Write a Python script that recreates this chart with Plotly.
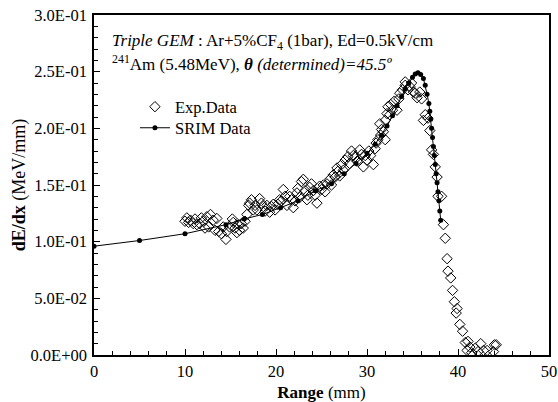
import plotly.graph_objects as go

# SRIM data (range mm, dE/dx MeV/mm)
srim_x = [0, 5, 10, 14.5, 16.5, 18.5, 20.5, 22.4, 24.3, 26.1, 27.5, 28.8, 30.0, 30.9, 31.6,
          32.2, 32.8, 33.3, 33.8, 34.2, 34.6, 35.0, 35.3, 35.6, 35.9, 36.2, 36.4, 36.6, 36.8,
          36.9, 37.0, 37.1, 37.2, 37.3, 37.4, 37.5, 37.6, 37.7, 37.8, 37.9, 38.0, 38.1]
srim_y = [0.096, 0.101, 0.107, 0.115, 0.120, 0.124, 0.130, 0.136, 0.145, 0.151, 0.160, 0.169,
          0.178, 0.186, 0.194, 0.202, 0.211, 0.220, 0.228, 0.235, 0.240, 0.245, 0.248, 0.249,
          0.2475, 0.244, 0.238, 0.230, 0.222, 0.215, 0.208, 0.200, 0.192, 0.184, 0.176, 0.168,
          0.160, 0.152, 0.144, 0.136, 0.127, 0.119]

# Experimental data
exp_x = [10.0, 10.2, 10.4, 10.6, 10.9, 11.1, 11.3, 11.6, 11.8, 12.0, 12.2, 12.4, 12.6, 12.8,
         13.1, 13.3, 13.5, 13.7, 14.0, 14.2, 14.5, 14.6, 14.9, 15.2, 15.3, 15.5, 15.7, 15.9,
         16.0, 16.2, 16.4, 16.6, 16.8, 17.0, 17.1, 17.3, 17.5, 17.7, 17.9, 18.2, 18.4, 18.6,
         18.8, 19.0, 19.3, 19.5, 19.7, 19.9, 20.2, 20.4, 20.6, 20.8, 21.0, 21.2, 21.5, 21.7,
         21.9, 22.1, 22.3, 22.4, 22.6, 22.8, 23.0, 23.2, 23.4, 23.5, 23.7, 23.9, 24.1, 24.3,
         24.5, 24.8, 25.0, 25.2, 25.4, 25.6, 25.9, 26.1, 26.3, 26.5, 26.7, 26.8, 27.0, 27.2,
         27.4, 27.6, 27.9, 28.1, 28.3, 28.5, 28.7, 28.9, 29.2, 29.4, 29.6, 29.8, 30.0, 30.2,
         30.4, 30.7, 30.9, 31.0, 31.2, 31.4, 31.5, 31.6, 31.8, 32.0, 32.0, 32.2, 32.3, 32.5,
         32.6, 32.8, 33.0, 33.3, 33.5, 33.6, 33.9, 34.2, 34.2, 34.5, 34.7, 34.9, 35.1, 35.3,
         35.5, 35.8, 36.0, 36.2, 36.4, 36.7, 36.9, 37.1, 37.3, 37.5, 37.7, 37.8, 38.2, 38.4,
         38.6, 38.8, 38.9, 39.2, 39.4, 39.6, 39.8, 39.9, 40.2, 40.5, 40.8, 41.0, 41.1, 41.3,
         41.5, 41.9, 42.2, 42.5, 42.8, 43.2, 43.9, 44.0, 44.2]
exp_y = [0.118, 0.121, 0.117, 0.119, 0.116, 0.120, 0.115, 0.116, 0.121, 0.118, 0.112, 0.122,
         0.113, 0.124, 0.119, 0.110, 0.1205, 0.109, 0.107, 0.113, 0.102, 0.109, 0.113, 0.120,
         0.117, 0.112, 0.108, 0.115, 0.110, 0.116, 0.112, 0.118, 0.124, 0.132, 0.134, 0.137,
         0.128, 0.132, 0.128, 0.138, 0.134, 0.131, 0.127, 0.132, 0.126, 0.131, 0.133, 0.128,
         0.133, 0.137, 0.136, 0.146, 0.140, 0.132, 0.140, 0.137, 0.130, 0.136, 0.143, 0.147,
         0.139, 0.153, 0.155, 0.145, 0.137, 0.141, 0.148, 0.151, 0.145, 0.141, 0.134, 0.149,
         0.146, 0.150, 0.144, 0.151, 0.155, 0.150, 0.159, 0.157, 0.165, 0.162, 0.158, 0.168,
         0.163, 0.172, 0.175, 0.169, 0.180, 0.176, 0.175, 0.171, 0.181, 0.177, 0.166, 0.176,
         0.172, 0.180, 0.176, 0.168, 0.182, 0.187, 0.190, 0.204, 0.194, 0.199, 0.197, 0.190,
         0.207, 0.213, 0.219, 0.212, 0.221, 0.216, 0.224, 0.216, 0.226, 0.231, 0.234, 0.238,
         0.241, 0.234, 0.237, 0.240, 0.232, 0.231, 0.227, 0.232, 0.226, 0.207, 0.212, 0.209,
         0.198, 0.181, 0.177, 0.166, 0.157, 0.140, 0.140, 0.115, 0.103, 0.085, 0.074, 0.068,
         0.057, 0.047, 0.037, 0.041, 0.027, 0.021, 0.011, 0.004, 0.012, 0.007, 0.002, 0.006,
         0.003, 0.010, 0.004, 0.004, 0.003, 0.009, 0.009]

y_tickvals = [0.0, 0.05, 0.10, 0.15, 0.20, 0.25, 0.30]
y_ticktext = ["0.0E+00", "5.0E-02", "1.0E-01", "1.5E-01", "2.0E-01", "2.5E-01", "3.0E-01"]
x_tickvals = [0, 10, 20, 30, 40, 50]

FONT = "Liberation Serif"

fig = go.Figure()
fig.add_trace(go.Scatter(
    x=exp_x, y=exp_y, mode="markers", name="Exp.Data", legend="legend",
    marker=dict(symbol="diamond-open", size=8, color="black", line=dict(width=1, color="black")),
))
fig.add_trace(go.Scatter(
    x=srim_x, y=srim_y, mode="lines+markers", name="SRIM Data", legend="legend2",
    line=dict(color="black", width=1),
    marker=dict(symbol="circle", size=5, color="black"),
))

leg_common = dict(xanchor="left", yanchor="top", bgcolor="rgba(0,0,0,0)",
                  font=dict(family=FONT, size=16.5), itemwidth=30)

fig.update_layout(
    width=558, height=402,
    margin=dict(l=94, r=9, t=15, b=47),
    paper_bgcolor="white", plot_bgcolor="white",
    font=dict(family=FONT, size=16, color="black"),
    showlegend=True,
    legend=dict(x=0.09, y=0.781, **leg_common),
    legend2=dict(x=0.09, y=0.719, **leg_common),
    xaxis=dict(
        range=[0, 50], tickvals=x_tickvals, showgrid=False, zeroline=False,
        automargin=False, ticklabeloverflow="allow",
        showline=True, linecolor="black", linewidth=1.5, mirror=True,
        ticks="inside", ticklen=6, tickcolor="black",
        minor=dict(dtick=2, ticks="inside", ticklen=4, tickcolor="black", showgrid=False),
        tickfont=dict(family=FONT, size=16.5),
        title=dict(text="<b>Range</b> (mm)", font=dict(family=FONT, size=17)),
    ),
    yaxis=dict(
        range=[0, 0.3], tickvals=y_tickvals, ticktext=y_ticktext, showgrid=False, zeroline=False,
        automargin="left", ticklabeloverflow="allow", ticklabelstandoff=2,
        showline=True, linecolor="black", linewidth=1.5, mirror=True,
        ticks="inside", ticklen=6, tickcolor="black",
        minor=dict(dtick=0.01, ticks="inside", ticklen=4, tickcolor="black", showgrid=False),
        tickfont=dict(family=FONT, size=16.5),
        title=dict(text="<b>dE/dx</b> (MeV/mm)", font=dict(family=FONT, size=18), standoff=0),
    ),
)

fig.add_annotation(
    xref="paper", yref="paper", x=0.035, y=0.922, xanchor="left", yanchor="middle",
    text="<i>Triple GEM</i> : Ar+5%CF<sub>4</sub> (1bar), Ed=0.5kV/cm",
    showarrow=False, font=dict(family=FONT, size=17),
)
fig.add_annotation(
    xref="paper", yref="paper", x=0.035, y=0.859, xanchor="left", yanchor="middle",
    text="<sup>241</sup>Am (5.48MeV), <b><i>θ</i></b><i> (determined)=45.5º</i>",
    showarrow=False, font=dict(family=FONT, size=17),
)

fig.write_html(
    "out.html",
    config={"displayModeBar": False},
    post_script="document.body.style.margin='0';document.body.style.overflow='hidden';",
)
